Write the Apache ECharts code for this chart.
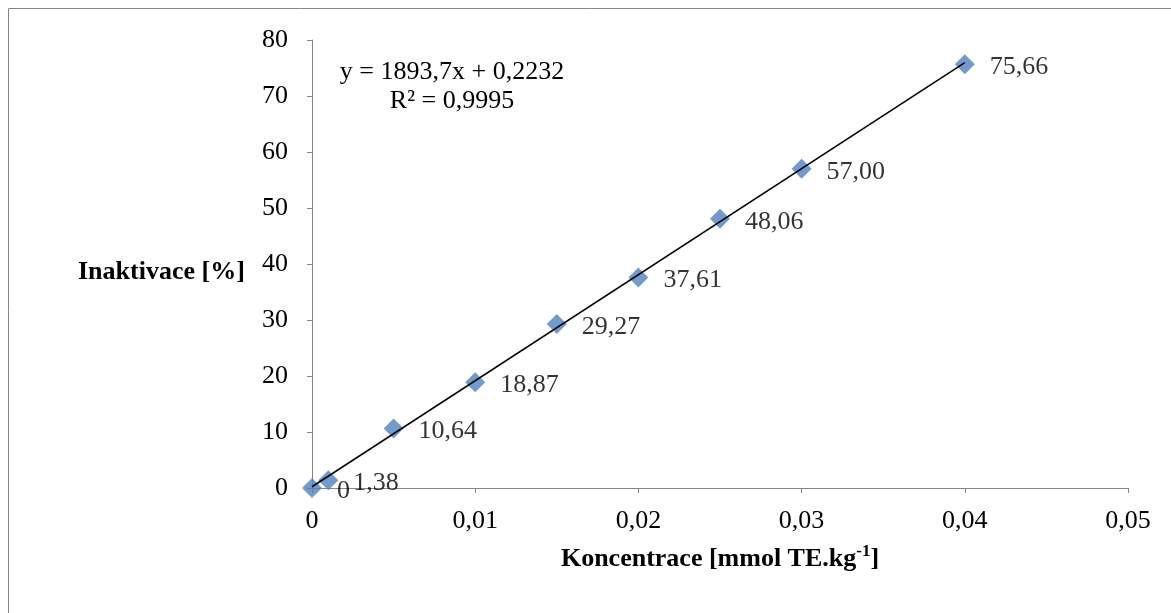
<!DOCTYPE html>
<html>
<head>
<meta charset="utf-8">
<script src="https://cdn.jsdelivr.net/npm/echarts@6/dist/echarts.min.js"></script>
<style>
  html, body { margin: 0; padding: 0; background: #fff; }
  #chart { width: 1171px; height: 613px; }
</style>
</head>
<body>
<div id="chart"></div>
<script>
// Concentration (mmol TE/kg) and measured inactivation (%)
const concentrations = [0, 0.001, 0.005, 0.01, 0.015, 0.02, 0.025, 0.03, 0.04];
const inactivation = [0, 1.38, 10.64, 18.87, 29.27, 37.61, 48.06, 57.00, 75.66];

// Linear trendline y = slope * x + intercept
const slope = 1893.7;
const intercept = 0.2232;
const rSquared = 0.9995;
const trendRange = [0, 0.04];

const xTicks = { min: 0, max: 0.05, interval: 0.01 };
const yTicks = { min: 0, max: 80, interval: 10 };

const comma = (s) => String(s).replace('.', ',');
const fmtLabel = (v) => (v === 0 ? '0' : comma(v.toFixed(2)));

const FONT = '"Liberation Serif", "Times New Roman", serif';
const FS = 26;
const AXIS_GRAY = '#868686';
const MARKER = '#4F81BD';

const chart = echarts.init(document.getElementById('chart'), null, { renderer: 'canvas' });

const points = concentrations.map((x, i) => [x, inactivation[i]]);
const trend = trendRange.map((x) => [x, slope * x + intercept]);

chart.setOption({
  animation: false,
  backgroundColor: '#fff',
  grid: { left: 312, right: 43, top: 40, bottom: 125, containLabel: false },
  xAxis: {
    type: 'value',
    min: xTicks.min, max: xTicks.max, interval: xTicks.interval,
    axisLine: { show: true, onZero: false, lineStyle: { color: AXIS_GRAY, width: 1 } },
    axisTick: { show: true, inside: false, length: 5, lineStyle: { color: AXIS_GRAY } },
    splitLine: { show: false },
    axisLabel: {
      margin: 20, color: '#000', fontFamily: FONT, fontSize: FS,
      formatter: (v) => comma(+v.toFixed(2))
    }
  },
  yAxis: {
    type: 'value',
    min: yTicks.min, max: yTicks.max, interval: yTicks.interval,
    axisLine: { show: true, onZero: false, lineStyle: { color: AXIS_GRAY, width: 1 } },
    axisTick: { show: true, inside: false, length: 5, lineStyle: { color: AXIS_GRAY } },
    splitLine: { show: false },
    axisLabel: { margin: 24, color: '#000', fontFamily: FONT, fontSize: FS }
  },
  series: [
    {
      type: 'line',
      data: trend,
      symbol: 'none',
      lineStyle: { color: '#000', width: 1.5 },
      z: 3,
      silent: true
    },
    {
      type: 'scatter',
      data: points,
      symbol: 'diamond',
      symbolSize: [20, 20],
      itemStyle: { color: MARKER },
      z: 2,
      label: {
        show: true,
        position: 'right',
        distance: 15,
        offset: [0, 3],
        color: '#000',
        fontFamily: FONT,
        fontSize: FS,
        formatter: (p) => fmtLabel(p.value[1])
      }
    }
  ],
  graphic: [
    {
      type: 'rect',
      shape: { x: 8.5, y: 8.5, width: 1300, height: 800 },
      style: { fill: 'none', stroke: AXIS_GRAY, lineWidth: 1 },
      silent: true, z: -10
    },
    {
      type: 'text',
      x: 78, y: 272,
      style: { text: 'Inaktivace [%]', font: 'bold ' + FS + 'px ' + FONT, fill: '#000', verticalAlign: 'middle' }
    },
    {
      type: 'text',
      x: 720, y: 558,
      style: {
        text: '{t|Koncentrace [mmol TE.kg}{s|-1}{t|]}',
        align: 'center', verticalAlign: 'middle',
        rich: {
          t: { font: 'bold ' + FS + 'px ' + FONT, fill: '#000', verticalAlign: 'bottom' },
          s: { font: 'bold 17px ' + FONT, fill: '#000', padding: [0, 0, 12, 0], verticalAlign: 'bottom' }
        }
      }
    },
    {
      type: 'text',
      x: 452, y: 87,
      style: {
        text: 'y = ' + comma(slope) + 'x + ' + comma(intercept) + '\nR² = ' + comma(rSquared),
        font: FS + 'px ' + FONT, fill: '#000', align: 'center', verticalAlign: 'middle', lineHeight: 29
      }
    }
  ]
});
</script>
</body>
</html>
